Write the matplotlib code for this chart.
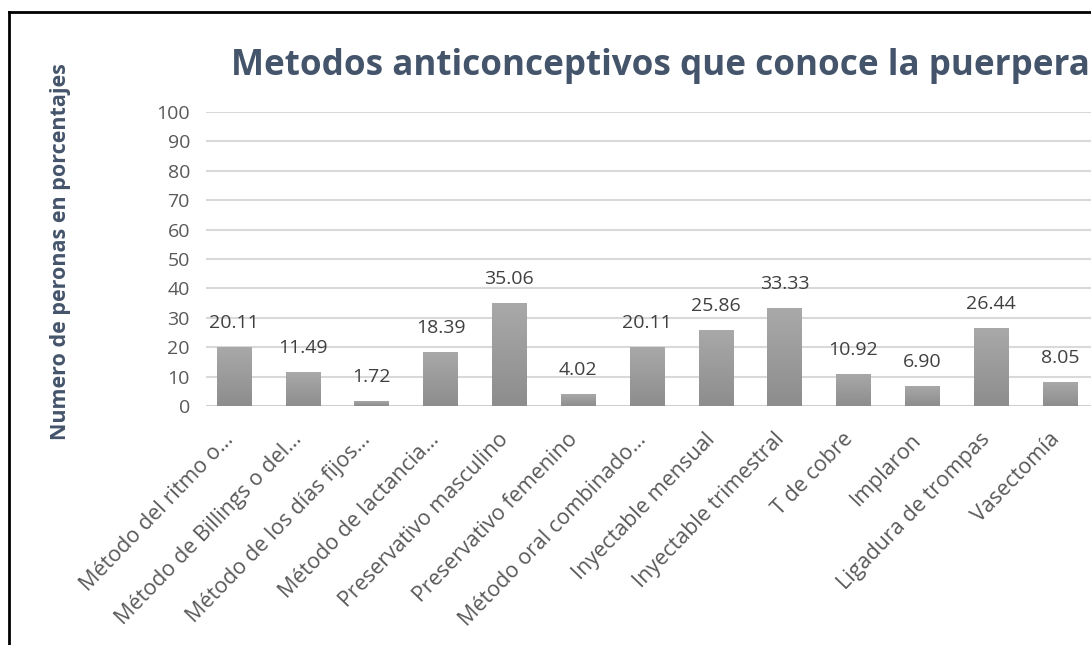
import numpy as np
import matplotlib
matplotlib.use('Agg')
import matplotlib.pyplot as plt
from matplotlib.lines import Line2D

# ── Data ─────────────────────────────────────────────────────────────────────
categories = [
    "Método del ritmo o…",
    "Método de Billings o del…",
    "Método de los días fijos…",
    "Método de lactancia…",
    "Preservativo masculino",
    "Preservativo femenino",
    "Método oral combinado…",
    "Inyectable mensual",
    "Inyectable trimestral",
    "T de cobre",
    "Implaron",
    "Ligadura de trompas",
    "Vasectomía",
]
values = [20.11, 11.49, 1.72, 18.39, 35.06, 4.02, 20.11,
          25.86, 33.33, 10.92, 6.90, 26.44, 8.05]
yticks = list(range(0, 101, 10))

title = "Metodos anticonceptivos que conoce la puerpera"
ylabel = "Numero de peronas en porcentajes"

plt.rcParams['font.family'] = ['Open Sans', 'DejaVu Sans']

W, H = 1091, 645
fig = plt.figure(figsize=(W / 100, H / 100), dpi=100)

# plot area in pixels (cropped on the right like the screenshot)
x0, x1 = 199.6, 1094.4
y0, y1 = 406, 112
ax = fig.add_axes([x0 / W, 1 - y0 / H, (x1 - x0) / W, (y0 - y1) / H])

x = np.arange(len(values))
bars = ax.bar(x, values, width=0.5, color='#9b9b9b', zorder=2)

# vertical gray gradient inside each bar
grad = np.linspace(0, 1, 256).reshape(-1, 1)
cmap = matplotlib.colors.LinearSegmentedColormap.from_list('g', ['#8d8d8d', '#a9a9a9'])
for b in bars:
    bx, by = b.get_x(), b.get_y()
    im = ax.imshow(grad, extent=[bx, bx + b.get_width(), by, by + b.get_height()],
                   origin='lower', cmap=cmap, aspect='auto', zorder=3)
    im.set_clip_path(b)

# data labels
for xi, v in zip(x, values):
    ax.annotate(f"{v:.2f}", (xi, v), xytext=(0, 13.7), textcoords='offset points',
                ha='center', va='baseline', fontsize=14, color='#404040', zorder=4)

ax.set_xlim(-0.5, len(values) - 0.5)
ax.set_ylim(0, 100)
ax.set_yticks(yticks)
ax.set_yticklabels([str(t) for t in yticks])
for s in ax.spines.values():
    s.set_visible(False)
ax.set_facecolor('none')
# gridlines start a little right of the category edge, as in the original
ax.hlines(yticks[1:], -0.4, len(values) - 0.5, color='#d9d9d9', lw=1.5, zorder=0)
ax.hlines(0, -0.4, len(values) - 0.5, color='#d0d0d0', lw=1.5, zorder=1)
ax.tick_params(axis='y', length=0, pad=7, labelsize=14, labelcolor='#595959')
ax.tick_params(axis='x', length=0, pad=24.5, labelsize=15.5, labelcolor='#595959')

ax.set_xticks(x)
ax.set_xticklabels(categories, rotation=46, ha='right', va='baseline',
                   rotation_mode='anchor')

fig.text(660 / W, 1 - 75 / H, title, ha='center', va='baseline',
         fontsize=25.2, fontweight='bold', color='#44546a')
fig.text(61 / W, 1 - 252 / H, ylabel, rotation=90, ha='center', va='center',
         fontsize=15.5, fontweight='bold', color='#44546a')

# black frame of the pasted chart (left and top edges visible)
fig.add_artist(Line2D([8.5 / W, 8.5 / W], [0, 1 - 12 / H], color='black', lw=2))
fig.add_artist(Line2D([8.5 / W, 1], [1 - 12 / H, 1 - 12 / H], color='black', lw=2))

fig.savefig('out.png', dpi=100)
